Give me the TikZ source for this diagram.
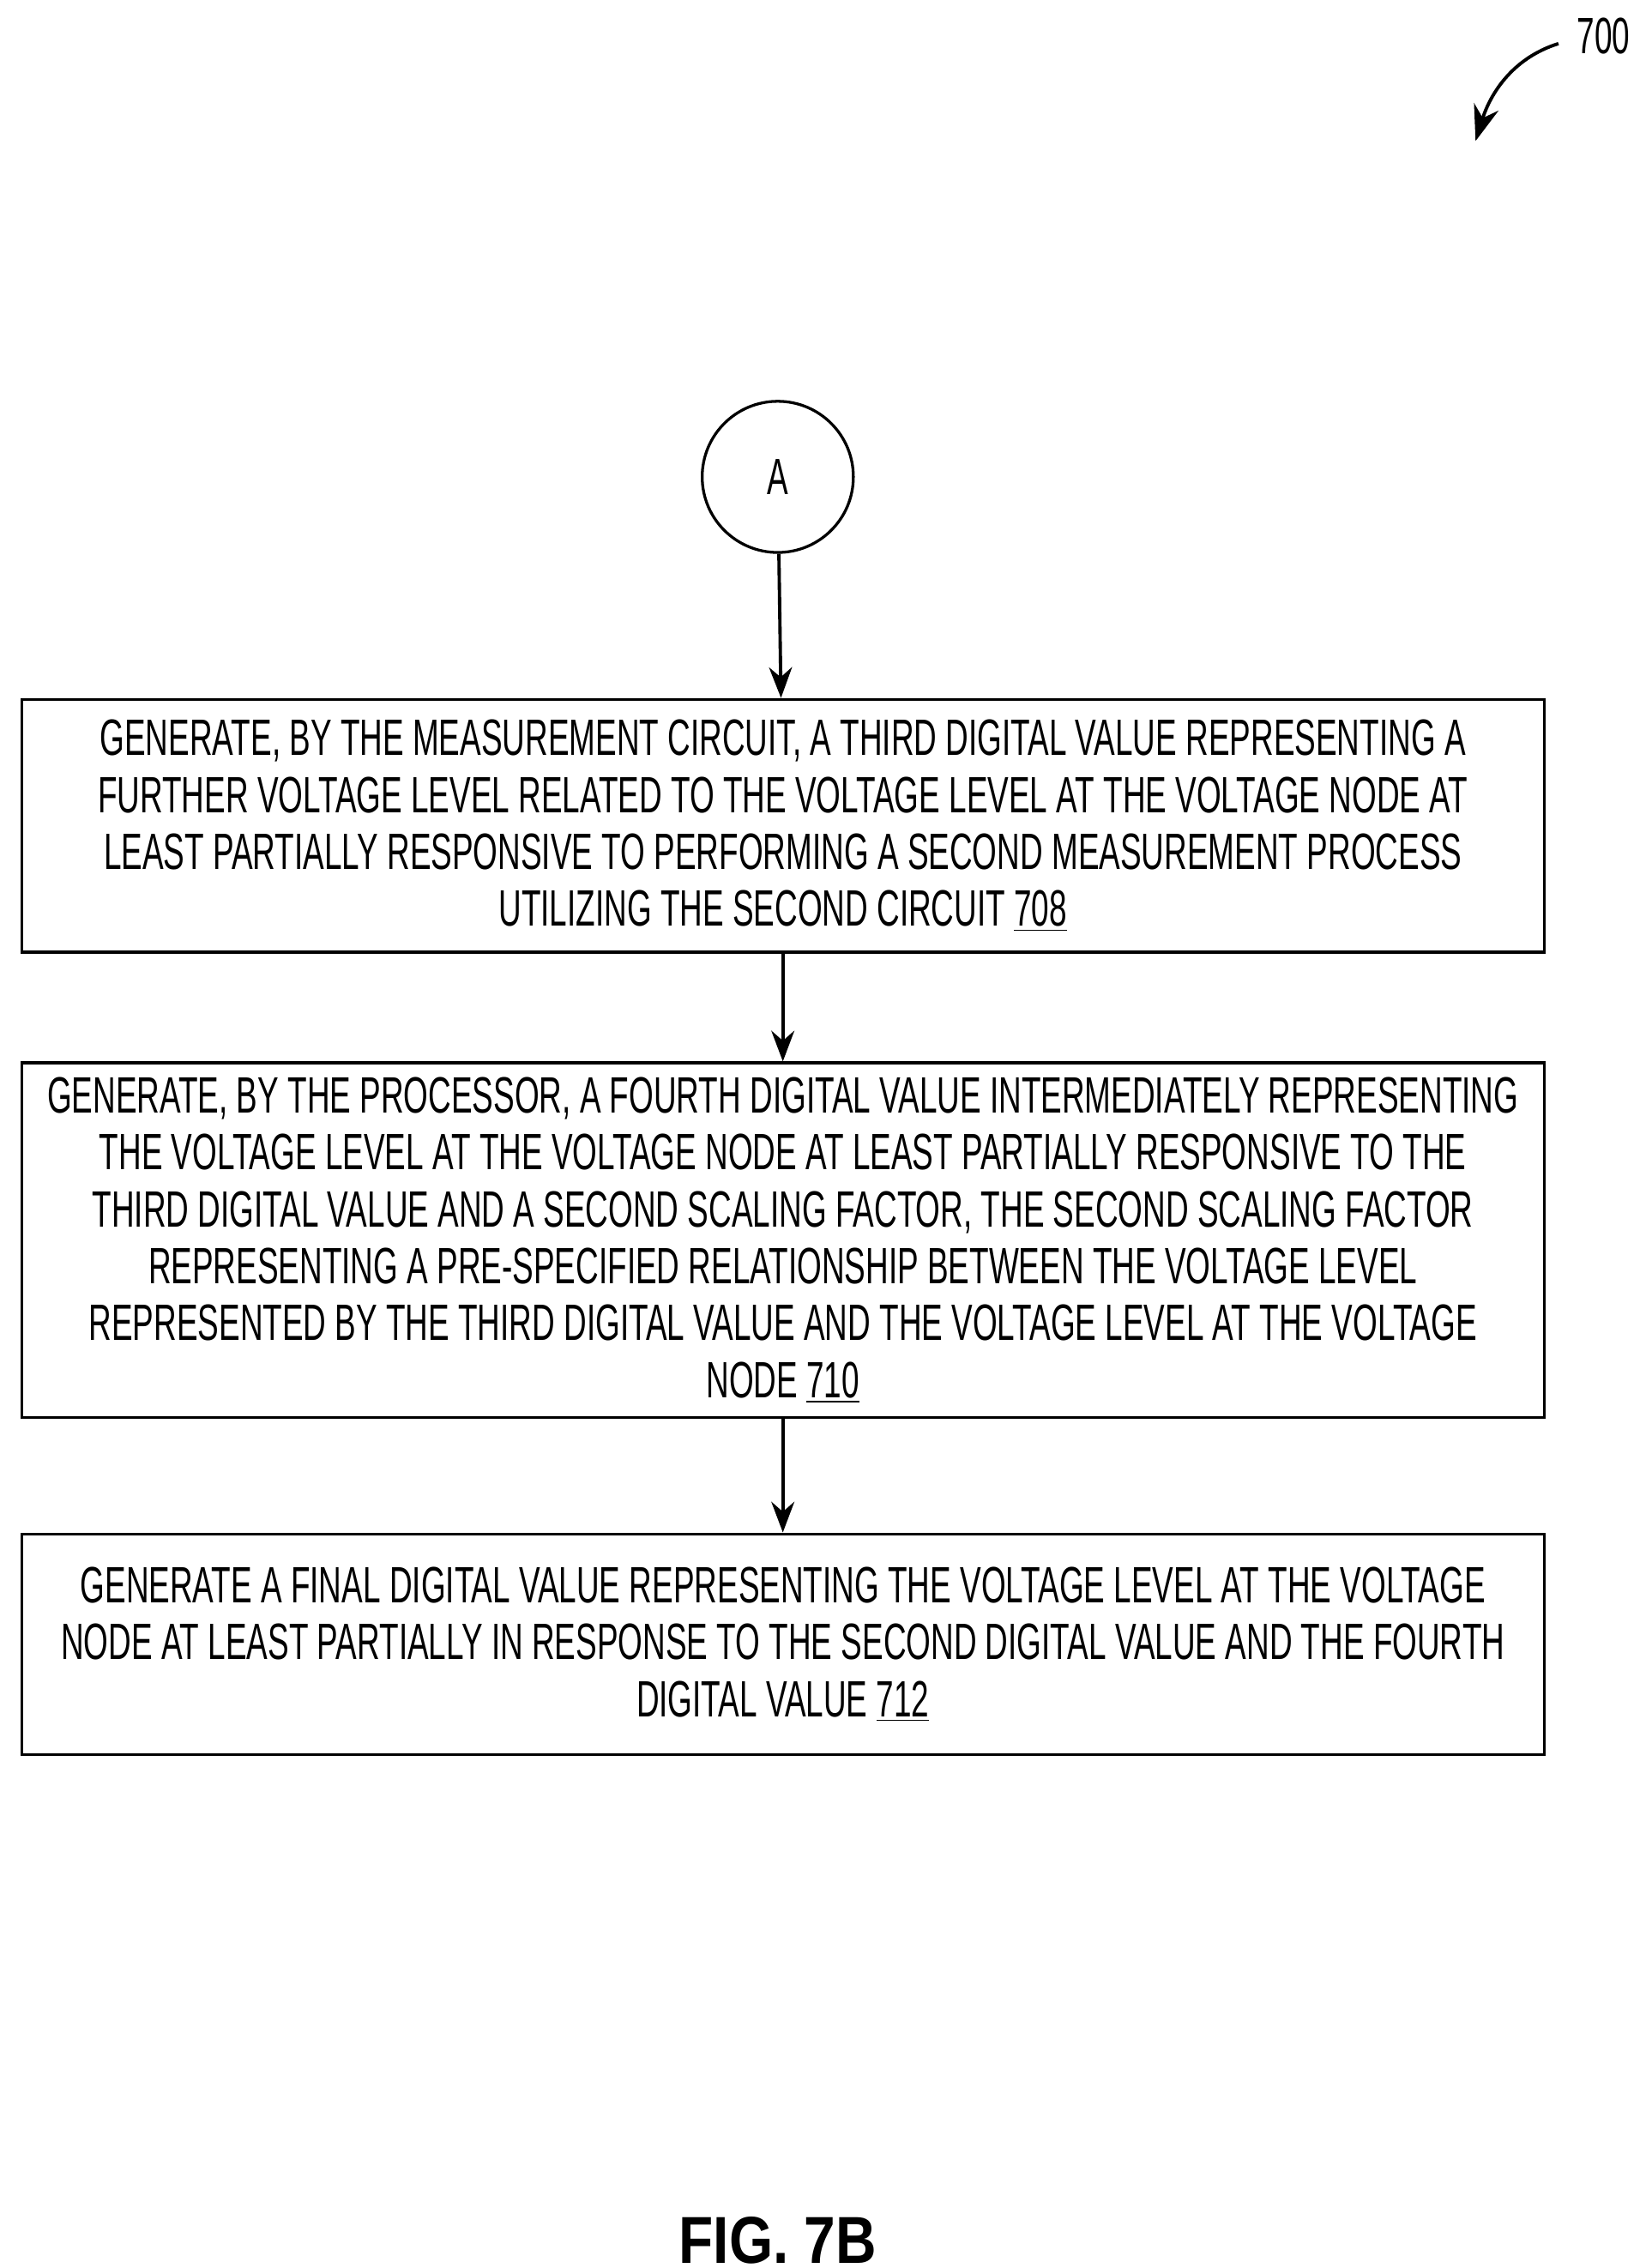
\documentclass[tikz,border=0pt]{standalone}
\usepackage{fontspec}
\setmainfont{Liberation Sans}[FakeStretch=0.62]
\newfontfamily\figfont{Liberation Sans}[FakeStretch=0.85]
\usetikzlibrary{positioning,arrows.meta}
\tikzset{
  stepbox/.style={draw,line width=1.1pt,minimum width=20.95cm,align=center,font=\fontsize{20}{22.3}\selectfont,inner sep=0pt},
  flow/.style={line width=1.3pt,-{Stealth[length=12pt,width=9pt]}}
}
\begin{document}
\begin{tikzpicture}[x=0.02cm,y=-0.02cm]
\useasboundingbox (0,0) rectangle (1128,1560);

\node[draw,line width=1.1pt,circle,minimum size=2.08cm,font=\fontsize{20}{22}\selectfont] (a) at (535,328) {A};

\node[stepbox,minimum height=3.48cm] (s708) at (538.5,568) {GENERATE, BY THE MEASUREMENT CIRCUIT, A THIRD DIGITAL VALUE REPRESENTING A\\FURTHER VOLTAGE LEVEL RELATED TO THE VOLTAGE LEVEL AT THE VOLTAGE NODE AT\\LEAST PARTIALLY RESPONSIVE TO PERFORMING A SECOND MEASUREMENT PROCESS\\UTILIZING THE SECOND CIRCUIT \underline{708}};

\node[stepbox,minimum height=4.88cm] (s710) at (538.5,853) {GENERATE, BY THE PROCESSOR, A FOURTH DIGITAL VALUE INTERMEDIATELY REPRESENTING\\THE VOLTAGE LEVEL AT THE VOLTAGE NODE AT LEAST PARTIALLY RESPONSIVE TO THE\\THIRD DIGITAL VALUE AND A SECOND SCALING FACTOR, THE SECOND SCALING FACTOR\\REPRESENTING A PRE-SPECIFIED RELATIONSHIP BETWEEN THE VOLTAGE LEVEL\\REPRESENTED BY THE THIRD DIGITAL VALUE AND THE VOLTAGE LEVEL AT THE VOLTAGE\\NODE \underline{710}};

\node[stepbox,minimum height=3.04cm] (s712) at (538.5,1131) {GENERATE A FINAL DIGITAL VALUE REPRESENTING THE VOLTAGE LEVEL AT THE VOLTAGE\\NODE AT LEAST PARTIALLY IN RESPONSE TO THE SECOND DIGITAL VALUE AND THE FOURTH\\DIGITAL VALUE \underline{712}};

\draw[flow] (a) -- (s708);
\draw[flow] (s708) -- (s710);
\draw[flow] (s710) -- (s712);

% figure label and reference number
\node[font=\fontsize{26}{28}\selectfont\figfont\bfseries] (fig) at (535,1541) {FIG. 7B};
\node[font=\fontsize{20}{22}\selectfont] (num) at (1103,25) {700};
\coordinate (tip) at (1015,97);
\draw[line width=1.3pt,-{Stealth[length=14pt,width=10pt]}] (1072,30) .. controls (1040,40) and (1025,65) .. (tip);
\end{tikzpicture}
\end{document}
